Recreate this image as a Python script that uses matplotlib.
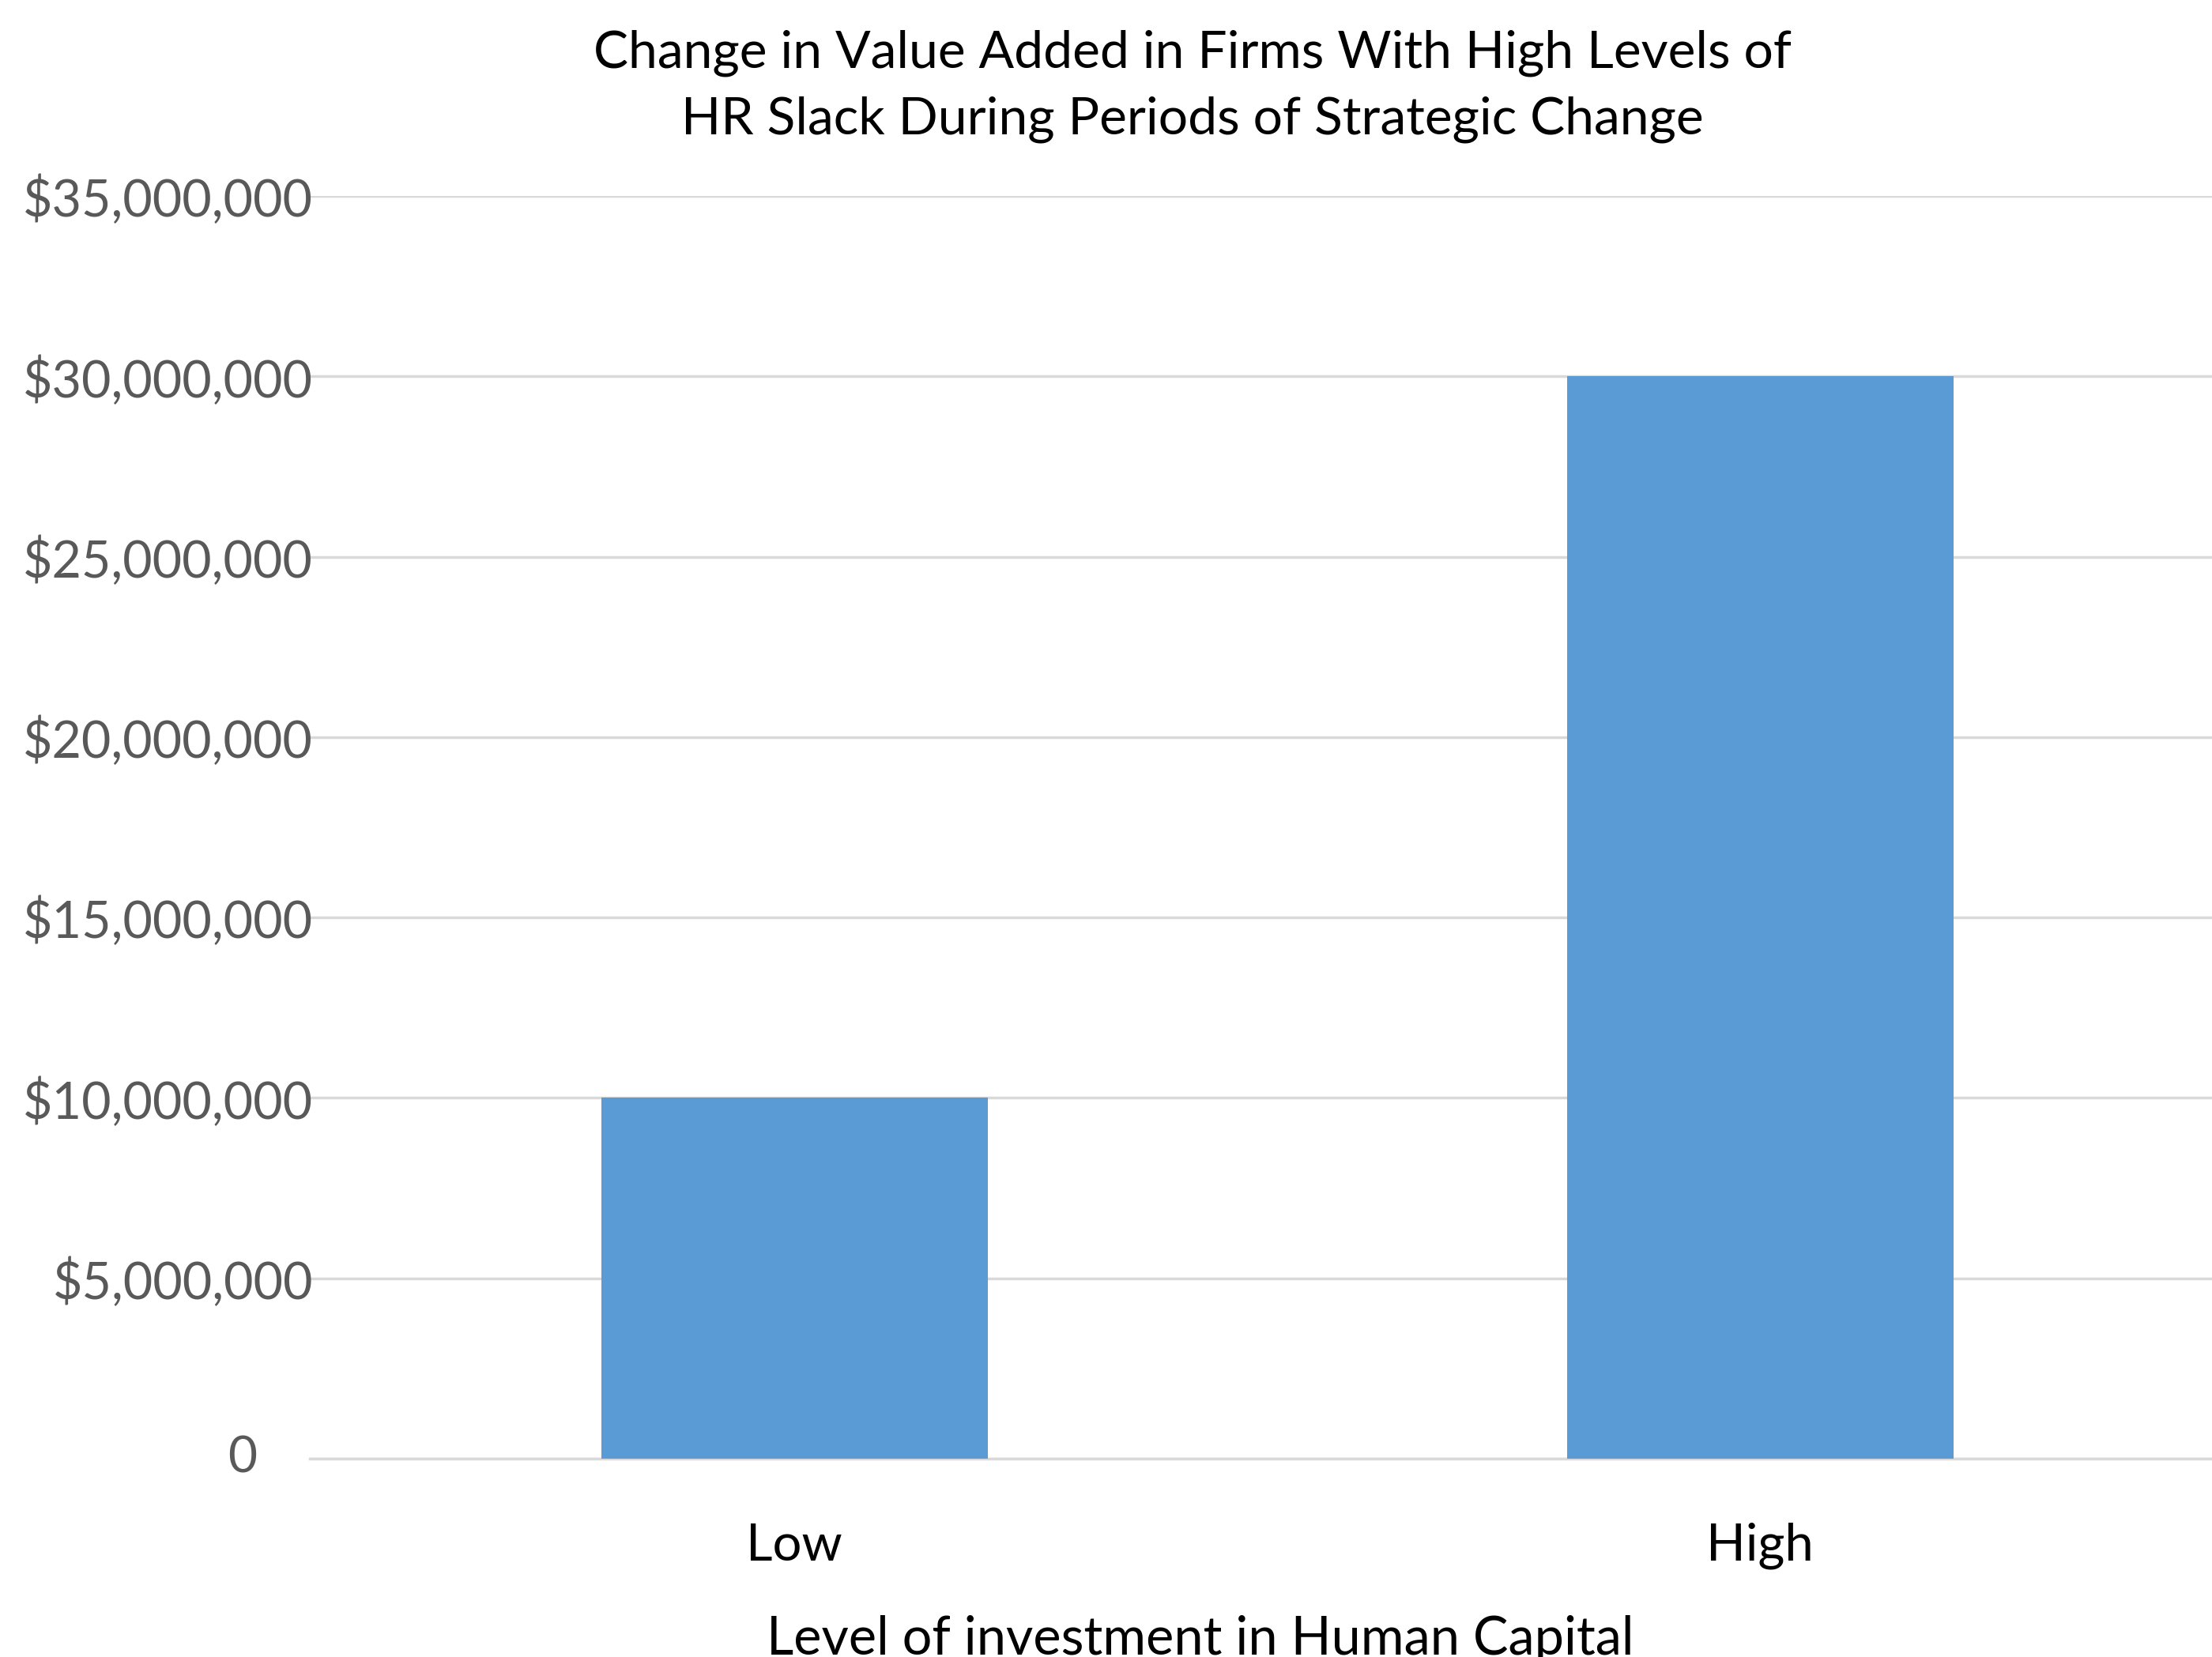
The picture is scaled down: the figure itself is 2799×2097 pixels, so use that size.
import numpy as np
import matplotlib
matplotlib.use('Agg')
import matplotlib.pyplot as plt
from matplotlib.ticker import FuncFormatter
from matplotlib.transforms import blended_transform_factory

categories = ['Low', 'High']
values = [10000000, 30000000]
yticks = [0, 5000000, 10000000, 15000000, 20000000, 25000000, 30000000, 35000000]

plt.rcParams['font.family'] = ['Lato', 'DejaVu Sans']

fig = plt.figure(figsize=(27.99, 20.97), dpi=100)
ax = fig.add_axes([0.140, 0.1197, 0.860, 0.762])

x = np.arange(len(categories))
ax.bar(x, values, width=0.4, color='#5B9BD5', zorder=3)

ax.set_xlim(-0.502, 1.468)
ax.set_ylim(0, 35000000)
ax.set_yticks(yticks)

def money(v, pos):
    if v == 0:
        return ''  # zero label drawn separately, Excel puts it further left
    return '${:,.0f}'.format(v)

ax.yaxis.set_major_formatter(FuncFormatter(money))
ax.text(0.116, 0, '0', transform=blended_transform_factory(fig.transFigure, ax.transData),
        ha='right', va='center', fontsize=46, color='#595959')
ax.set_xticks(x)
ax.set_xticklabels(categories)

ax.grid(axis='y', color='#D9D9D9', linewidth=2.5, zorder=0)
for s in ['top', 'right', 'left']:
    ax.spines[s].set_visible(False)
ax.spines['bottom'].set_color('#D9D9D9')
ax.spines['bottom'].set_linewidth(2.5)
ax.tick_params(axis='both', length=0)
ax.tick_params(axis='y', labelsize=46.5, labelcolor='#595959', pad=-3)
ax.tick_params(axis='x', labelsize=47, labelcolor='#000000', pad=58)

ax.set_xlabel('Level of investment in Human Capital', fontsize=48)
ax.xaxis.set_label_coords(0.468, -0.124)
fig.text(0.539, 0.948, 'Change in Value Added in Firms With High Levels of\nHR Slack During Periods of Strategic Change',
         ha='center', va='center', fontsize=47.5, linespacing=1.52)

fig.savefig('out.png', dpi=100)
